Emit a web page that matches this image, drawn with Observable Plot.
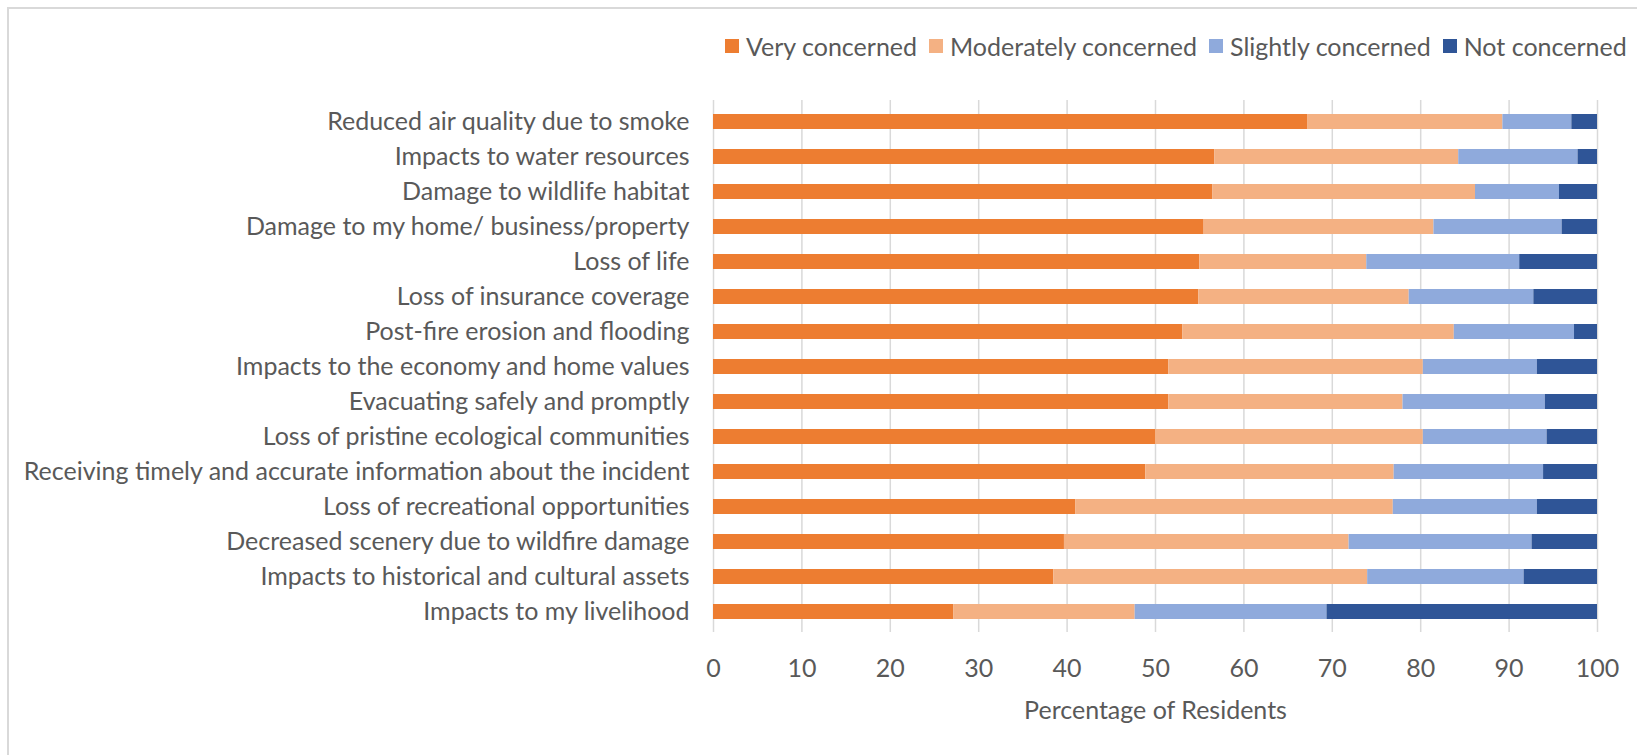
<!DOCTYPE html>
<html>
<head>
<meta charset="utf-8">
<script src="https://cdn.jsdelivr.net/npm/d3@7"></script>
<script src="https://cdn.jsdelivr.net/npm/@observablehq/plot@0.6"></script>
<style>
  html, body { margin: 0; padding: 0; background: #fff; overflow: hidden; }
  #wrap { position: relative; width: 1637px; height: 755px; font-family: Lato, sans-serif; color: #595959; }
  #border { position: absolute; left: 7px; top: 7px; width: 1700px; height: 800px; border: 2px solid #d9d9d9; box-sizing: border-box; }
  #legend { position: absolute; top: 31px; left: 725px; display: flex; align-items: center; font-size: 25px; white-space: nowrap; }
  #legend .item { display: flex; align-items: center; margin-right: 12px; }
  #legend .sw { width: 14px; height: 14px; margin-right: 7px; }
  #chart { position: absolute; left: 0; top: 80px; }
</style>
</head>
<body>
<div id="wrap">
  <div id="border"></div>
  <div id="legend"></div>
  <div id="chart"></div>
</div>
<script>
const categories = [
  "Reduced air quality due to smoke",
  "Impacts to water resources",
  "Damage to wildlife habitat",
  "Damage to my home/ business/property",
  "Loss of life",
  "Loss of insurance coverage",
  "Post-fire erosion and flooding",
  "Impacts to the economy and home values",
  "Evacuating safely and promptly",
  "Loss of pristine ecological communities",
  "Receiving timely and accurate information about the incident",
  "Loss of recreational opportunities",
  "Decreased scenery due to wildfire damage",
  "Impacts to historical and cultural assets",
  "Impacts to my livelihood"
];
const seriesNames = ["Very concerned", "Moderately concerned", "Slightly concerned", "Not concerned"];
const seriesColors = ["#ED7D31", "#F4B183", "#8FAADC", "#2F5597"];
const veryConcerned =       [67.2, 56.7, 56.5, 55.5, 55.0, 54.9, 53.1, 51.5, 51.5, 50.0, 48.9, 41.0, 39.7, 38.5, 27.2];
const moderatelyConcerned = [22.1, 27.6, 29.7, 26.0, 18.9, 23.8, 30.7, 28.8, 26.5, 30.3, 28.1, 35.9, 32.2, 35.5, 20.5];
const slightlyConcerned =   [7.8, 13.5, 9.5, 14.5, 17.3, 14.1, 13.6, 12.9, 16.1, 14.0, 16.9, 16.3, 20.7, 17.7, 21.7];
const notConcerned =        [2.9, 2.2, 4.3, 4.0, 8.8, 7.2, 2.6, 6.8, 5.9, 5.7, 6.1, 6.8, 7.4, 8.3, 30.6];
const xTicks = [0, 10, 20, 30, 40, 50, 60, 70, 80, 90, 100];

const seriesValues = [veryConcerned, moderatelyConcerned, slightlyConcerned, notConcerned];
const rows = [];
seriesNames.forEach((s, si) => {
  categories.forEach((c, ci) => rows.push({category: c, series: s, value: seriesValues[si][ci]}));
});

const legend = document.getElementById("legend");
seriesNames.forEach((s, i) => {
  const it = document.createElement("div");
  it.className = "item";
  it.innerHTML = `<span class="sw" style="background:${seriesColors[i]}"></span><span>${s}</span>`;
  legend.appendChild(it);
});

const chart = Plot.plot({
  width: 1637,
  height: 675,
  marginLeft: 713,
  marginRight: 40,
  marginTop: 20,
  marginBottom: 123,
  style: {fontFamily: "Lato, sans-serif", fontSize: "25px", color: "#595959", background: "transparent"},
  x: {domain: [0, 100]},
  y: {domain: categories, paddingInner: 0.58, paddingOuter: 0.29},
  color: {domain: seriesNames, range: seriesColors},
  marks: [
    Plot.gridX(xTicks, {stroke: "#d9d9d9", strokeOpacity: 1, strokeWidth: 1.5}),
    Plot.barX(rows, Plot.stackX({x: "value", y: "category", fill: "series", order: seriesNames})),
    Plot.axisX(xTicks, {tickSize: 0, tickPadding: 27, label: "Percentage of Residents", labelAnchor: "center", labelArrow: "none", labelOffset: 86, fill: "#595959"}),
    Plot.axisY({tickSize: 0, tickPadding: 24, label: null, fill: "#595959"})
  ]
});
document.getElementById("chart").appendChild(chart);
</script>
</body>
</html>
